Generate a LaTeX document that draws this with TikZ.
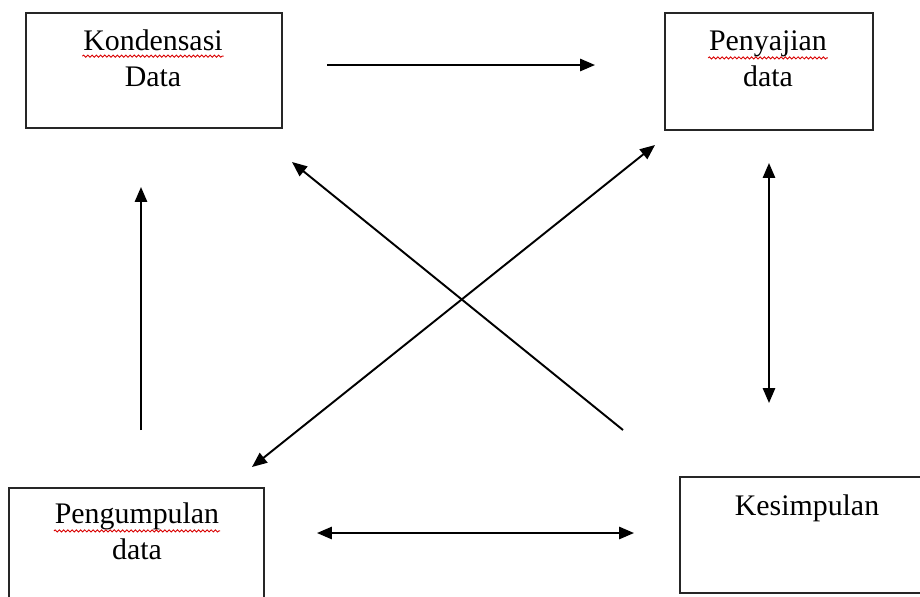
\documentclass[tikz,border=0pt]{standalone}
\usepackage{fontspec}
\setmainfont{Liberation Serif}
\usetikzlibrary{arrows.meta,decorations.pathmorphing}

\begin{document}
\begin{tikzpicture}[x=0.02cm, y=-0.02cm, >={Triangle[length=8.5pt,width=7pt]}, line width=1.1pt,
  box/.style={draw=black!85, line width=0.9pt, inner sep=0pt},
  lbl/.style={inner sep=0pt, font=\fontsize{17pt}{20pt}\selectfont, anchor=base},
  typo/.style={draw=red!85!black, line width=0.5pt, decorate, decoration={snake, amplitude=0.6pt, segment length=2.4pt}}]
  \useasboundingbox (0,0) rectangle (920,596);

  % boxes
  \node[box, minimum width=5.12cm, minimum height=2.3cm] (kond) at (154,70.5) {};
  \node[box, minimum width=4.16cm, minimum height=2.34cm] (peny) at (769,71.5) {};
  \node[box, minimum width=5.1cm, minimum height=2.44cm] (peng) at (136.5,549) {};
  \node[box, minimum width=5.1cm, minimum height=2.32cm] (kesi) at (807.5,535) {};

  % texts
  \node[lbl] (kondA) at (153,50) {Kondensasi};
  \node[lbl] (kondB) at (153,86) {Data};
  \node[lbl] (penyA) at (768,50) {Penyajian};
  \node[lbl] (penyB) at (768,86) {data};
  \node[lbl] (pengA) at (137,523) {Pengumpulan};
  \node[lbl] (pengB) at (137,559) {data};
  \node[lbl] (kesiA) at (807,515) {Kesimpulan};

  % spelling marks
  \draw[typo] ([yshift=-3.5pt]kondA.base west) -- ([yshift=-3.5pt]kondA.base east);
  \draw[typo] ([yshift=-4.5pt]penyA.base west) -- ([yshift=-4.5pt]penyA.base east);
  \draw[typo] ([yshift=-4.5pt]pengA.base west) -- ([yshift=-4.5pt]pengA.base east);

  % arrow ends
  \coordinate (kp1) at (327,65);  \coordinate (kp2) at (595,65);
  \coordinate (pk1) at (141,430); \coordinate (pk2) at (141,187);
  \coordinate (ps1) at (769,163); \coordinate (ps2) at (769,403);
  \coordinate (gs1) at (317,533); \coordinate (gs2) at (634,533);
  \coordinate (gp1) at (252,467); \coordinate (gp2) at (655,145);
  \coordinate (sk1) at (623,430); \coordinate (sk2) at (292,162);

  \draw[->] (kp1) -- (kp2);
  \draw[->] (pk1) -- (pk2);
  \draw[<->] (ps1) -- (ps2);
  \draw[<->] (gs1) -- (gs2);
  \draw[<->] (gp1) -- (gp2);
  \draw[->] (sk1) -- (sk2);
\end{tikzpicture}
\end{document}
